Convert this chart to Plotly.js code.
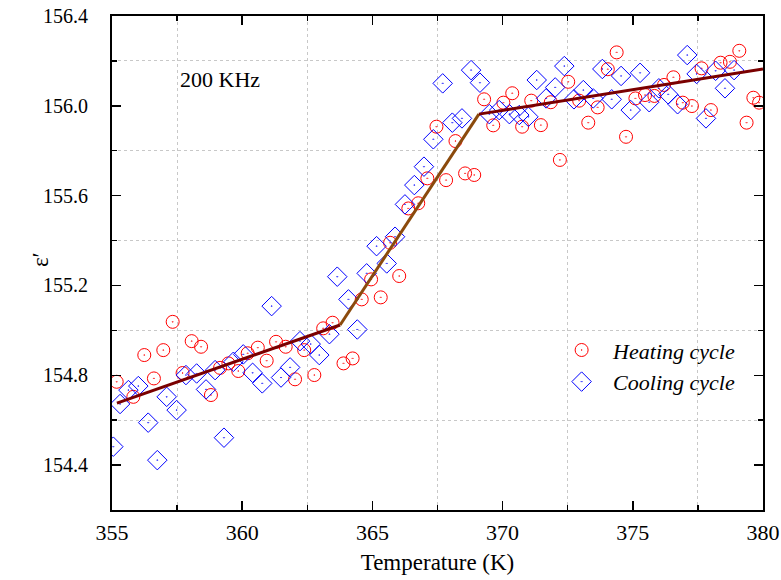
<!DOCTYPE html>
<html>
<head>
<meta charset="utf-8">
<script src="https://cdn.plot.ly/plotly-3.0.1.min.js"></script>
<style>html,body{margin:0;padding:0;background:#fff;}#chart{width:781px;height:580px;}</style>
</head>
<body>
<div id="chart"></div>
<script>
const heatingT = [355.18,355.82,356.24,356.61,356.97,357.33,357.71,358.06,358.42,358.80,359.15,359.47,359.85,360.21,360.60,360.94,361.30,361.67,362.03,362.38,362.77,363.11,363.47,363.89,364.24,364.59,364.95,365.32,365.68,366.03,366.38,366.76,367.11,367.46,367.83,368.19,368.56,368.91,369.29,369.64,370.03,370.37,370.75,371.10,371.47,371.85,372.20,372.52,372.94,373.29,373.65,374.04,374.38,374.74,375.10,375.47,375.83,376.20,376.56,376.92,377.27,377.64,378.00,378.37,378.73,379.09,379.37,379.63,379.85];
const heatingEps = [154.771,154.704,154.890,154.786,154.912,155.038,154.810,154.952,154.927,154.712,154.833,154.853,154.819,154.898,154.923,154.865,154.949,154.927,154.782,154.912,154.801,155.009,155.034,154.853,154.875,155.138,155.227,155.147,155.390,155.242,155.543,155.566,155.677,155.907,155.669,155.843,155.699,155.692,156.029,155.913,156.014,156.056,155.907,156.023,155.914,156.016,155.759,156.107,156.023,155.925,155.993,156.163,156.238,155.862,156.033,156.048,156.044,156.093,156.127,156.014,155.999,156.167,155.981,156.192,156.196,156.245,155.925,156.036,156.014];

const coolingT = [355.05,355.31,355.63,356.01,356.39,356.74,357.10,357.48,357.84,358.25,358.61,358.96,359.30,359.66,360.04,360.40,360.77,361.13,361.49,361.84,362.22,362.63,362.96,363.35,363.65,364.08,364.42,364.78,365.16,365.55,365.87,366.25,366.61,366.98,367.34,367.70,368.07,368.44,368.79,369.13,369.49,369.87,370.26,370.64,370.99,371.31,371.67,372.02,372.37,372.74,373.10,373.48,373.83,374.19,374.55,374.92,375.28,375.63,376.00,376.36,376.72,377.09,377.45,377.81,378.18,378.54,378.89];
const coolingEps = [154.482,154.672,154.734,154.752,154.589,154.422,154.704,154.645,154.801,154.808,154.737,154.823,154.522,154.860,154.893,154.811,154.764,155.108,154.790,154.835,154.952,154.939,154.890,154.983,155.239,155.138,155.004,155.254,155.375,155.298,155.417,155.561,155.647,155.729,155.851,156.100,155.925,155.944,156.159,156.103,155.963,155.981,155.963,155.959,155.951,156.115,156.033,156.082,156.177,156.029,156.070,156.033,156.164,156.029,156.133,155.981,156.147,156.016,156.078,156.051,156.007,156.226,156.142,155.944,156.156,156.078,156.159];

const fitLowT = [355.19, 363.76];
const fitLowEps = [154.676, 155.024];
const fitMidT = [363.76, 369.09];
const fitMidEps = [155.024, 155.963];
const fitHighT = [369.09, 380.0];
const fitHighEps = [155.963, 156.164];

const seriesNames = ['Heating cycle', 'Cooling cycle'];
const freqLabel = '200 KHz';
const xTitle = 'Temperature (K)';
const yTitle = 'ε′';

const FONT = '"Liberation Serif", "Times New Roman", Times, serif';

const traces = [
  {x: heatingT, y: heatingEps, name: seriesNames[0], mode: 'markers', type: 'scatter',
   marker: {symbol: 'circle-open-dot', size: 13, color: '#ff0000', line: {width: 1, color: '#ff0000'}}},
  {x: coolingT, y: coolingEps, name: seriesNames[1], mode: 'markers', type: 'scatter',
   marker: {symbol: 'diamond-open-dot', size: 15, color: '#0000ff', line: {width: 1, color: '#0000ff'}}},
  {x: fitLowT, y: fitLowEps, mode: 'lines', showlegend: false, line: {color: '#7a0000', width: 3}},
  {x: fitMidT, y: fitMidEps, mode: 'lines', showlegend: false, line: {color: '#8b4a0c', width: 3}},
  {x: fitHighT, y: fitHighEps, mode: 'lines', showlegend: false, line: {color: '#7a0000', width: 3}}
];

const axisCommon = {
  showline: true, linecolor: '#000', linewidth: 2, mirror: 'allticks',
  ticks: 'inside', ticklen: 9, tickwidth: 1.5, tickcolor: '#000',
  showgrid: false, zeroline: false
};

const layout = {
  width: 781, height: 580,
  margin: {l: 112, r: 18, t: 16, b: 70},
  paper_bgcolor: '#fff', plot_bgcolor: '#fff',
  font: {family: FONT, color: '#000'},
  xaxis: Object.assign({}, axisCommon, {
    range: [355, 380], dtick: 5, tick0: 355,
    ticklabelstandoff: 2,
    tickfont: {family: FONT, size: 22, color: '#000'},
    minor: {ticks: 'inside', ticklen: 5, tickwidth: 1.5, tickcolor: '#000', dtick: 2.5, tick0: 355,
            showgrid: true, gridcolor: '#c8c8c8', griddash: 'dot', gridwidth: 1},
    title: {text: xTitle, font: {family: FONT, size: 23, color: '#000'}, standoff: 9}
  }),
  yaxis: Object.assign({}, axisCommon, {
    range: [154.2, 156.4], dtick: 0.4, tick0: 154.4, tickformat: '.1f',
    ticklabelstandoff: 18,
    tickfont: {family: FONT, size: 20, color: '#000'},
    minor: {ticks: 'inside', ticklen: 5, tickwidth: 1.5, tickcolor: '#000', dtick: 0.2, tick0: 154.2,
            showgrid: true, gridcolor: '#c8c8c8', griddash: 'dot', gridwidth: 1}
  }),
  showlegend: true,
  legend: {x: 0.673, xanchor: 'left', y: 0.366, yanchor: 'top', bgcolor: 'rgba(0,0,0,0)',
           font: {family: FONT, size: 22, color: '#000', style: 'italic'}, itemwidth: 53,
           tracegroupgap: 0},
  annotations: [
    {text: freqLabel, xref: 'paper', yref: 'paper', x: 0.101, y: 0.872,
     xanchor: 'left', yanchor: 'middle', showarrow: false,
     font: {family: FONT, size: 22, color: '#000'}},
    {text: yTitle, xref: 'paper', yref: 'paper', x: -0.1106, y: 0.508,
     xanchor: 'center', yanchor: 'middle', textangle: -90, showarrow: false,
     font: {family: FONT, size: 23, color: '#000'}}
  ]
};

Plotly.newPlot('chart', traces, layout, {displayModeBar: false, staticPlot: true});
</script>
</body>
</html>
